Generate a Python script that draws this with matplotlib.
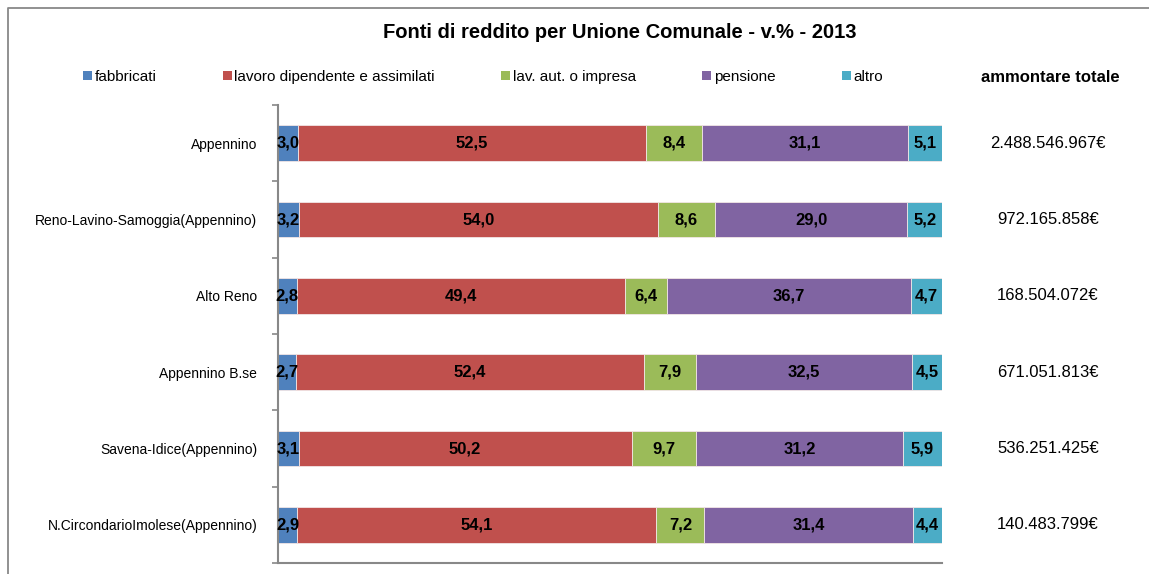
import numpy as np
import matplotlib
matplotlib.use("Agg")
import matplotlib.pyplot as plt
from matplotlib.lines import Line2D
from matplotlib.patches import Patch

plt.rcParams['font.family'] = ['Liberation Sans', 'DejaVu Sans']

# Data
unioni = ['Appennino', 'Reno-Lavino-Samoggia(Appennino)', 'Alto Reno',
          'Appennino B.se', 'Savena-Idice(Appennino)', 'N.CircondarioImolese(Appennino)']
fabbricati = [3.0, 3.2, 2.8, 2.7, 3.1, 2.9]
lavoro_dip = [52.5, 54.0, 49.4, 52.4, 50.2, 54.1]
lav_aut = [8.4, 8.6, 6.4, 7.9, 9.7, 7.2]
pensione = [31.1, 29.0, 36.7, 32.5, 31.2, 31.4]
altro = [5.1, 5.2, 4.7, 4.5, 5.9, 4.4]
totali = ['2.488.546.967€', '972.165.858€', '168.504.072€',
          '671.051.813€', '536.251.425€', '140.483.799€']

series_names = ['fabbricati', 'lavoro dipendente e assimilati', 'lav. aut. o impresa',
                'pensione', 'altro']
colors = ['#4F81BD', '#C0504D', '#9BBB59', '#8064A2', '#4BACC6']

data = np.array([fabbricati, lavoro_dip, lav_aut, pensione, altro])
# 100% stacked like the Excel original
norm = data / data.sum(axis=0) * 100

fig = plt.figure(figsize=(11.49, 5.74), dpi=100)
W, H = 1149, 574

# chart border: only left and top sides are inside the image
bx, by = 8 / W, 1 - 8 / H
fig.add_artist(Line2D([bx, bx, 1.0], [0.0, by, by], transform=fig.transFigure,
                      color='#888888', linewidth=1.3))

ax = fig.add_axes([278 / W, 1 - 563 / H, (942 - 278) / W, (563 - 105) / H])

y = np.arange(len(unioni))
left = np.zeros(len(unioni))
for i in range(len(series_names)):
    ax.barh(y, norm[i], left=left, height=0.47, color=colors[i],
            edgecolor='#F2E6E6', linewidth=0.6, label=series_names[i])
    for j in range(len(unioni)):
        ax.text(left[j] + norm[i][j] / 2, y[j], f"{data[i][j]:.1f}".replace('.', ','),
                ha='center', va='center', fontsize=12, fontweight='bold', color='black')
    left += norm[i]

ax.set_xlim(0, 100)
ax.set_ylim(len(unioni) - 0.5, -0.5)
ax.set_yticks(y)
ax.set_yticklabels(unioni, fontsize=10)
ax.tick_params(axis='y', which='major', length=0, pad=15)
ax.set_yticks(np.arange(-0.5, len(unioni), 1), minor=True)
ax.tick_params(axis='y', which='minor', length=4, color='#888888', width=1.2)
ax.set_xticks([])
for s in ['top', 'right']:
    ax.spines[s].set_visible(False)
for s in ['left', 'bottom']:
    ax.spines[s].set_color('#888888')
    ax.spines[s].set_linewidth(1.5)

# totals on the right
for j, t in enumerate(totali):
    ax.annotate(t, xy=(1048 / W, y[j]), xycoords=('figure fraction', 'data'),
                ha='center', va='center', fontsize=12, annotation_clip=False)

fig.text(1050 / W, 1 - 77 / H, 'ammontare totale', ha='center', va='center',
         fontsize=12, fontweight='bold')

fig.text(620 / W, 1 - 33 / H, 'Fonti di reddito per Unione Comunale - v.% - 2013',
         ha='center', va='center', fontsize=14.5, fontweight='bold')

handles = [Patch(facecolor=c, edgecolor='none') for c in colors]
fig.legend(handles, series_names, ncol=5, loc='center', bbox_to_anchor=(483 / W, 1 - 77 / H),
           frameon=False, fontsize=11, handlelength=0.6, handleheight=0.6,
           handletextpad=0.15, columnspacing=4.35)

fig.savefig('out.png', dpi=100)
